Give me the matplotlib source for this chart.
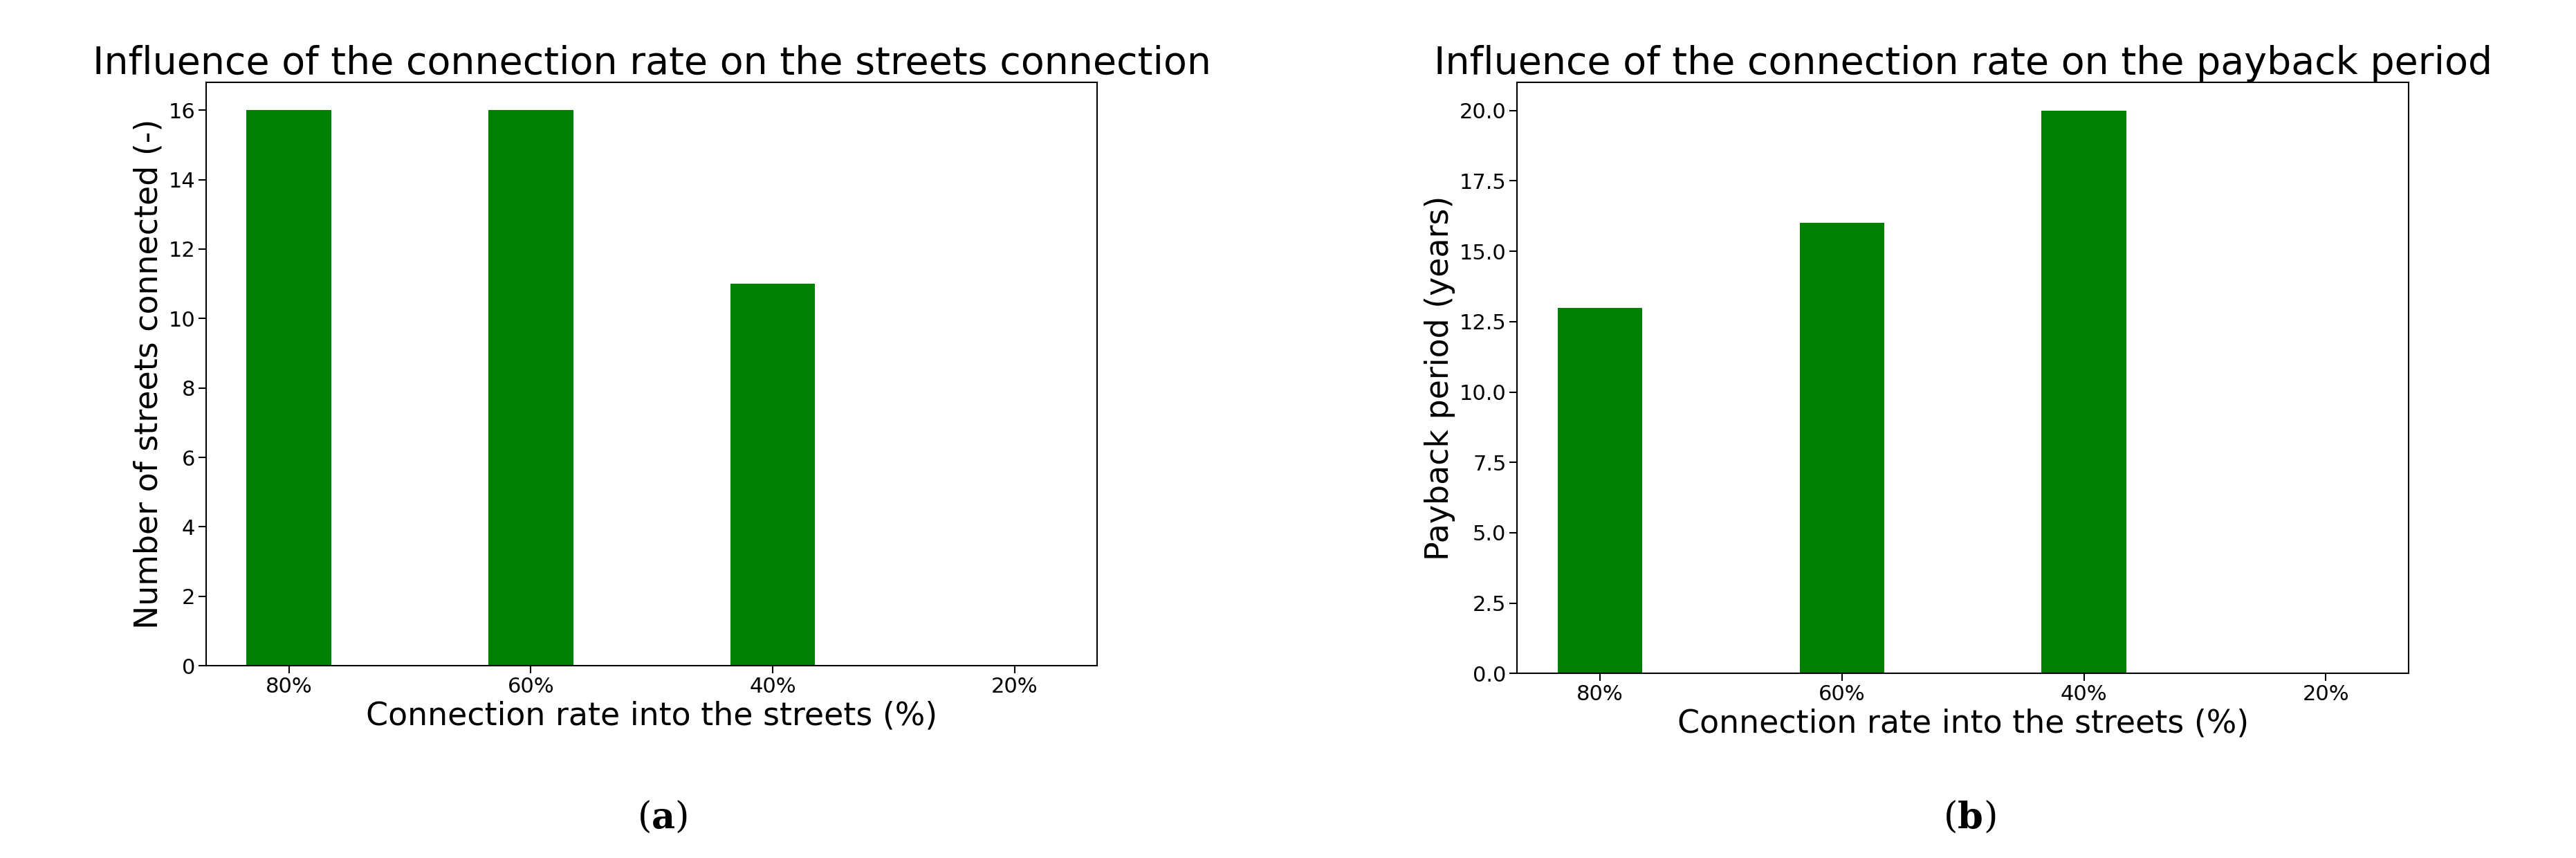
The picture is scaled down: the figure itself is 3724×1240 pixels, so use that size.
import matplotlib
matplotlib.use("Agg")
import matplotlib.pyplot as plt

categories = ["80%", "60%", "40%", "20%"]
streets_connected = [16, 16, 11, 0]
payback_years = [13, 16, 20, 0]

fig = plt.figure(figsize=(37.24, 12.40), dpi=100)
ax1 = fig.add_axes([0.080, 0.224, 0.346, 0.680])
ax2 = fig.add_axes([0.589, 0.215, 0.346, 0.689])

x = range(len(categories))
ax1.bar(x, streets_connected, width=0.35, color="green")
ax2.bar(x, payback_years, width=0.35, color="green")

for ax, yl, tl in [(ax1, "Number of streets connected (-)", "Influence of the connection rate on the streets connection"),
                   (ax2, "Payback period (years)", "Influence of the connection rate on the payback period")]:
    ax.set_xticks(list(x))
    ax.set_xticklabels(categories)
    ax.tick_params(labelsize=22, length=8, width=1.5)
    ax.set_xlabel("Connection rate into the streets (%)", fontsize=33)
    ax.set_ylabel(yl, fontsize=33)
    ax.set_title(tl, fontsize=40)
    for s in ax.spines.values():
        s.set_linewidth(1.5)

ax1.set_yticks(range(0, 17, 2))
fig.text(0.253, 0.035, "(", fontsize=38, family="DejaVu Serif", ha="right")
fig.text(0.253, 0.035, "a", fontsize=38, family="DejaVu Serif", weight="bold", ha="left")
fig.text(0.262, 0.035, ")", fontsize=38, family="DejaVu Serif", ha="left")
fig.text(0.760, 0.035, "(", fontsize=38, family="DejaVu Serif", ha="right")
fig.text(0.760, 0.035, "b", fontsize=38, family="DejaVu Serif", weight="bold", ha="left")
fig.text(0.770, 0.035, ")", fontsize=38, family="DejaVu Serif", ha="left")

fig.savefig("out.png", dpi=100)
